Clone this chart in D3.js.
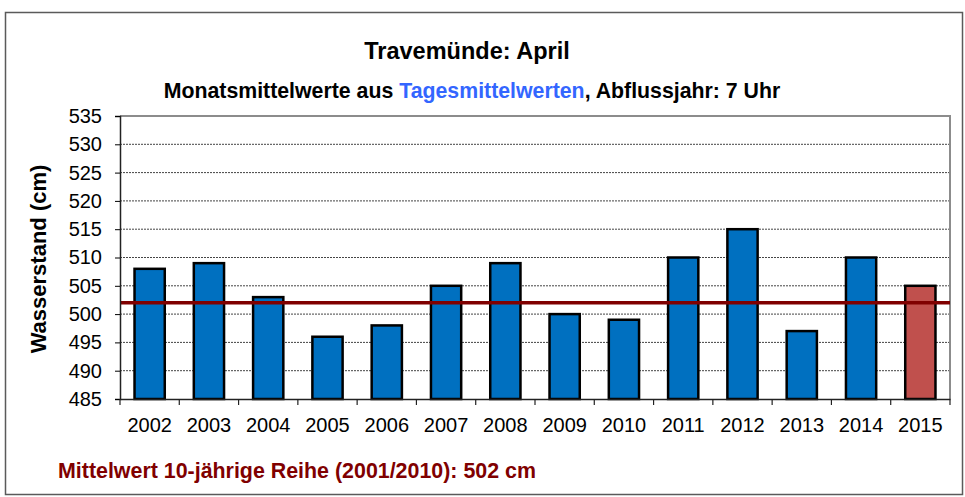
<!DOCTYPE html>
<html>
<head>
<meta charset="utf-8">
<script src="https://cdn.jsdelivr.net/npm/d3@7"></script>
<style>
  body { margin: 0; background: #fff; }
  text { font-family: "Liberation Sans", Arial, sans-serif; }
</style>
</head>
<body>
<svg id="chart" width="965" height="497"></svg>
<script>
// data
const years = ["2002", "2003", "2004", "2005", "2006", "2007", "2008",
               "2009", "2010", "2011", "2012", "2013", "2014", "2015"];
const levels = [508, 509, 503, 496, 498, 505, 509, 500, 499, 510, 515, 497, 510, 505];
const yTicks = [485, 490, 495, 500, 505, 510, 515, 520, 525, 530, 535];
const meanValue = 502;

const svg = d3.select("#chart"),
    m = {left: 120, right: 950, top: 116, bottom: 399};

// outer frame
svg.append("rect")
    .attr("x", 5.5).attr("y", 12.5)
    .attr("width", 957).attr("height", 482)
    .attr("fill", "none").attr("stroke", "#5a5a5a").attr("stroke-width", 1.5);

const x = d3.scaleBand().domain(years).range([m.left, m.right]).paddingInner(0.49).paddingOuter(0.245);
const xb = d3.scaleBand().domain(years).range([m.left, m.right]);
const y = d3.scaleLinear().domain([485, 535]).range([m.bottom, m.top]);

// grid
svg.append("g")
  .selectAll("line")
    .data(yTicks.slice(1, -1))
  .enter().append("line")
    .attr("x1", m.left).attr("x2", m.right)
    .attr("y1", d => y(d)).attr("y2", d => y(d))
    .attr("stroke", "#444").attr("stroke-width", 1)
    .attr("stroke-dasharray", "2,1");

// plot border top/right
svg.append("path")
    .attr("d", "M" + m.left + "," + m.top + "H" + m.right + "V" + m.bottom)
    .attr("fill", "none").attr("stroke", "#8c8c8c").attr("stroke-width", 2);

// bars
svg.append("g")
  .selectAll("rect")
    .data(years)
  .enter().append("rect")
    .attr("x", d => x(d))
    .attr("width", x.bandwidth())
    .attr("y", (d, i) => y(levels[i]))
    .attr("height", (d, i) => y(485) - y(levels[i]))
    .attr("fill", d => d === "2015" ? "#C0504D" : "#0070C0")
    .attr("stroke", "#000").attr("stroke-width", 2.5);

// mean line
svg.append("line")
    .attr("x1", m.left).attr("x2", m.right)
    .attr("y1", y(meanValue)).attr("y2", y(meanValue))
    .attr("stroke", "#800000").attr("stroke-width", 3.5);

// y axis
const yAxis = svg.append("g")
    .attr("transform", "translate(" + m.left + ",0)")
    .call(d3.axisLeft(y).tickValues(yTicks).tickSize(5).tickPadding(13));
yAxis.select(".domain").attr("stroke", "#222").attr("stroke-width", 1.5);
yAxis.selectAll("text").attr("font-size", 20).attr("fill", "#000")
    .style("font-family", "Liberation Sans, Arial, sans-serif");

// x axis
const xAxis = svg.append("g")
    .attr("transform", "translate(0," + m.bottom + ")")
    .call(d3.axisBottom(xb).tickSize(0).tickPadding(19));
xAxis.select(".domain").attr("stroke", "#222").attr("stroke-width", 1.5);
xAxis.selectAll("text").attr("font-size", 20).attr("fill", "#000")
    .style("font-family", "Liberation Sans, Arial, sans-serif");
xAxis.selectAll(".sep")
    .data(years.concat(["end"]))
  .enter().append("line")
    .attr("class", "sep")
    .attr("x1", (d, i) => m.left + i * xb.bandwidth())
    .attr("x2", (d, i) => m.left + i * xb.bandwidth())
    .attr("y1", 0).attr("y2", 6)
    .attr("stroke", "#222").attr("stroke-width", 1.2);

// titles
svg.append("text")
    .attr("x", 467).attr("y", 59)
    .attr("text-anchor", "middle")
    .attr("font-size", 23.5).attr("font-weight", "bold")
    .text("Travemünde: April");

const sub = svg.append("text")
    .attr("x", 472).attr("y", 98)
    .attr("text-anchor", "middle")
    .attr("font-size", 21.3).attr("font-weight", "bold");
sub.append("tspan").text("Monatsmittelwerte aus ");
sub.append("tspan").attr("fill", "#3366FF").text("Tagesmittelwerten");
sub.append("tspan").text(", Abflussjahr: 7 Uhr");

svg.append("text")
    .attr("transform", "translate(46,259) rotate(-90)")
    .attr("text-anchor", "middle")
    .attr("font-size", 22).attr("font-weight", "bold")
    .text("Wasserstand (cm)");

svg.append("text")
    .attr("x", 58).attr("y", 478)
    .attr("font-size", 21.4).attr("font-weight", "bold")
    .attr("fill", "#800000")
    .text("Mittelwert 10-jährige Reihe (2001/2010): 502 cm");
</script>
</body>
</html>
